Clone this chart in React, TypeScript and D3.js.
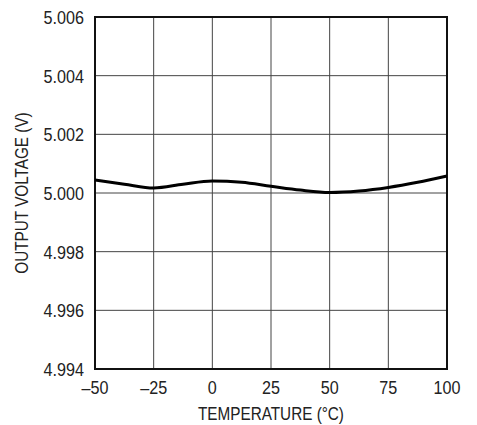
import React from 'react';
import * as d3 from 'd3';

// temperature (°C) vs output voltage (V)
const temps = [-50, -37.5, -25, -12.5, 0, 12.5, 25, 37.5, 50, 62.5, 75, 87.5, 100];
const volts = [5.00044, 5.0003, 5.00017, 5.0003, 5.00041, 5.000365, 5.00023, 5.0001, 5.00002, 5.00007, 5.00019, 5.000365, 5.00058];

const xTicks = [-50, -25, 0, 25, 50, 75, 100];
const yTicks = [4.994, 4.996, 4.998, 5.0, 5.002, 5.004, 5.006];

const font = '"Liberation Sans", Arial, sans-serif';
const squeeze = 0.85; // no narrow font installed, so squash horizontally

function Label({ x, y, anchor, size, rotate, children }: any) {
    return (
        <g transform={`translate(${x},${y})${rotate ? ` rotate(${rotate})` : ''} scale(${squeeze},1)`}>
            <text textAnchor={anchor} dy="0.36em" fontSize={size} fontFamily={font} fill="#222">
                {children}
            </text>
        </g>
    );
}

function App() {
    const W = 477;
    const H = 425;
    const margin = { top: 17, right: 30, bottom: 56, left: 95 };
    const width = W - margin.left - margin.right;
    const height = H - margin.top - margin.bottom;

    const x = d3.scaleLinear().domain([-50, 100]).range([0, width]);
    const y = d3.scaleLinear().domain([4.994, 5.006]).range([height, 0]);

    const pts: [number, number][] = temps.map((t, i) => [t, volts[i]]);
    const line = d3.line<[number, number]>()
        .x(d => x(d[0]))
        .y(d => y(d[1]))
        .curve(d3.curveMonotoneX);

    const minus = (v: number) => (v < 0 ? '\u2013' + Math.abs(v) : String(v));

    return (
        <svg width={W} height={H} style={{ position: 'absolute', left: 0, top: 0, background: '#fff' }}>
            <g transform={`translate(${margin.left},${margin.top})`}>
                {/* grid */}
                {xTicks.map(t => (
                    <line key={'gx' + t} x1={x(t)} x2={x(t)} y1={0} y2={height} stroke="#444" strokeWidth={1} />
                ))}
                {yTicks.map(t => (
                    <line key={'gy' + t} x1={0} x2={width} y1={y(t)} y2={y(t)} stroke="#444" strokeWidth={1} />
                ))}
                <rect x={0} y={0} width={width} height={height} fill="none" stroke="#111" strokeWidth={2} />

                <path d={line(pts) || ''} fill="none" stroke="#000" strokeWidth={3} />

                {/* tick labels */}
                {xTicks.map(t => (
                    <Label key={'tx' + t} x={x(t)} y={height + 18} anchor="middle" size={19}>
                        {minus(t)}
                    </Label>
                ))}
                {yTicks.map(t => (
                    <Label key={'ty' + t} x={-11} y={y(t)} anchor="end" size={19}>
                        {t.toFixed(3)}
                    </Label>
                ))}

                <Label x={width / 2} y={height + 45} anchor="middle" size={18}>
                    TEMPERATURE (°C)
                </Label>
                <Label x={-73} y={height / 2} anchor="middle" size={18} rotate={-90}>
                    OUTPUT VOLTAGE (V)
                </Label>
            </g>
        </svg>
    );
}

export default App;
